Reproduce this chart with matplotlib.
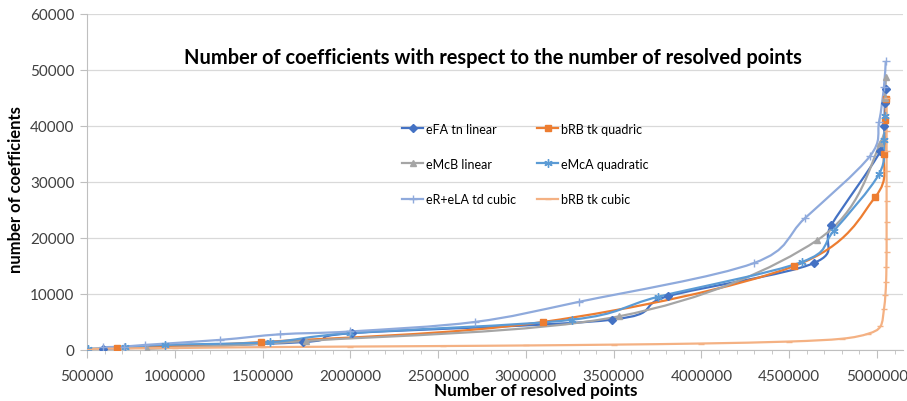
import matplotlib
matplotlib.use("Agg")
import matplotlib.pyplot as plt
from matplotlib.path import Path
from matplotlib.patches import PathPatch
from matplotlib.lines import Line2D
from matplotlib.ticker import MultipleLocator, FuncFormatter

plt.rcParams['font.family'] = ['Lato', 'DejaVu Sans']

# series
efa_x = [590000, 1730000, 2010000, 3490000, 3810000, 4640000, 4740000, 5020000, 5040000, 5045000, 5050000]
efa_y = [200, 1400, 3000, 5400, 9600, 15500, 22300, 35500, 40000, 44000, 46600]

brbq_x = [670000, 1490000, 3100000, 4530000, 4990000, 5040000, 5048000, 5050000]
brbq_y = [350, 1400, 5000, 15000, 27300, 35000, 41000, 44800]

emcb_x = [840000, 1745000, 3530000, 4660000, 5020000, 5045000, 5050000]
emcb_y = [200, 1600, 6000, 19600, 37000, 45000, 48700]

emca_x = [505000, 717000, 945000, 1545000, 1996000, 3264000, 3755000, 4572000, 4755000, 5012000, 5040000, 5048000]
emca_y = [200, 500, 900, 1400, 3000, 5400, 9500, 15700, 21300, 31400, 37500, 41800]

erela_x = [590000, 710000, 830000, 1260000, 1602000, 2000000, 2710000, 3304000, 4298000, 4589000, 4960000, 5012000, 5040000, 5050000]
erela_y = [500, 600, 900, 1800, 2800, 3300, 5000, 8600, 15500, 23500, 34600, 40700, 47000, 51600]

brbc_x = [510000, 1000000, 1500000, 2000000, 2530000, 3000000, 3500000, 4000000, 4500000, 4800000,
          4950000, 5020000, 5040000, 5048000, 5052000, 5054000, 5055000, 5055000, 5055000, 5055000,
          5055000, 5055000, 5055000, 5055000, 5055000]
brbc_y = [200, 350, 500, 600, 700, 800, 950, 1150, 1500, 2000,
          2900, 4200, 7300, 9800, 12100, 14800, 17500, 19800, 22900, 26600,
          29300, 32000, 35500, 39000, 45000]

labels = ["eFA tn linear", "bRB tk quadric", "eMcB linear",
          "eMcA quadratic", "eR+eLA td cubic", "bRB tk cubic"]
colors = ["#4472C4", "#ED7D31", "#A5A5A5", "#5B9BD5", "#8FAADC", "#F4B183"]
markers = ["D", "s", "^", (6, 2, 0), "+", "_"]
msizes = [4, 5, 5, 6, 6, 5]
series = [(efa_x, efa_y), (brbq_x, brbq_y), (emcb_x, emcb_y),
          (emca_x, emca_y), (erela_x, erela_y), (brbc_x, brbc_y)]


def smooth_path(xs, ys):
    # Catmull-Rom style bezier, like Excel's smoothed lines
    pts = list(zip(xs, ys))
    verts = [pts[0]]
    codes = [Path.MOVETO]
    n = len(pts)
    for i in range(n - 1):
        p0 = pts[max(i - 1, 0)]
        p1 = pts[i]
        p2 = pts[i + 1]
        p3 = pts[min(i + 2, n - 1)]
        c1 = (p1[0] + (p2[0] - p0[0]) / 6, p1[1] + (p2[1] - p0[1]) / 6)
        c2 = (p2[0] - (p3[0] - p1[0]) / 6, p2[1] - (p3[1] - p1[1]) / 6)
        verts += [c1, c2, p2]
        codes += [Path.CURVE4] * 3
    return Path(verts, codes)


fig = plt.figure(figsize=(9.07, 4.02), dpi=100)
ax = fig.add_axes([0.0959, 0.127, 0.9, 0.836])

handles = []
for (xs, ys), lab, c, m, ms in zip(series, labels, colors, markers, msizes):
    ax.add_patch(PathPatch(smooth_path(xs, ys), facecolor="none", edgecolor=c, lw=1.6, zorder=3))
    ax.plot(xs, ys, linestyle="none", marker=m, ms=ms, color=c, mec=c, mew=1.0, zorder=4)
    handles.append(Line2D([], [], color=c, lw=1.6, marker=m, ms=ms, mew=1.0, label=lab))

ax.set_xlim(500000, 5150000)
ax.set_ylim(0, 60000)
ax.xaxis.set_major_locator(MultipleLocator(500000))
ax.xaxis.set_minor_locator(MultipleLocator(100000))
ax.yaxis.set_major_locator(MultipleLocator(10000))
plain = FuncFormatter(lambda v, p: f"{v:.0f}")
ax.xaxis.set_major_formatter(plain)
ax.yaxis.set_major_formatter(plain)
ax.grid(axis="y", color="#D9D9D9", lw=0.9)
ax.set_axisbelow(True)
for s in ["top", "right"]:
    ax.spines[s].set_visible(False)
for s in ["left", "bottom"]:
    ax.spines[s].set_color("#BFBFBF")
ax.tick_params(axis="x", which="major", length=6, color="#BFBFBF", labelsize=11, labelcolor="#404040", pad=8)
ax.tick_params(axis="x", which="minor", length=3, color="#BFBFBF")
ax.tick_params(axis="y", length=5, color="#BFBFBF", labelsize=11, labelcolor="#404040", pad=4)

ax.set_xlabel("Number of resolved points", fontsize=12.3, fontweight="bold")
ax.xaxis.set_label_coords(0.55, -0.095)
ax.set_ylabel("number of coefficients", fontsize=12, fontweight="bold")
ax.yaxis.set_label_coords(-0.077, 0.479)
fig.text(0.543, 0.856, "Number of coefficients with respect to the number of resolved points",
         ha="center", va="center", fontsize=14.4, fontweight="bold")

# legend fills row by row in the reference
order = [0, 2, 4, 1, 3, 5]
fig.legend(handles=[handles[i] for i in order], loc="center", bbox_to_anchor=(0.579, 0.59), ncol=2,
           frameon=False, fontsize=9, labelspacing=1.85, columnspacing=1.7, handlelength=1.7,
           handletextpad=0.2)

fig.savefig("out.png", dpi=100)
